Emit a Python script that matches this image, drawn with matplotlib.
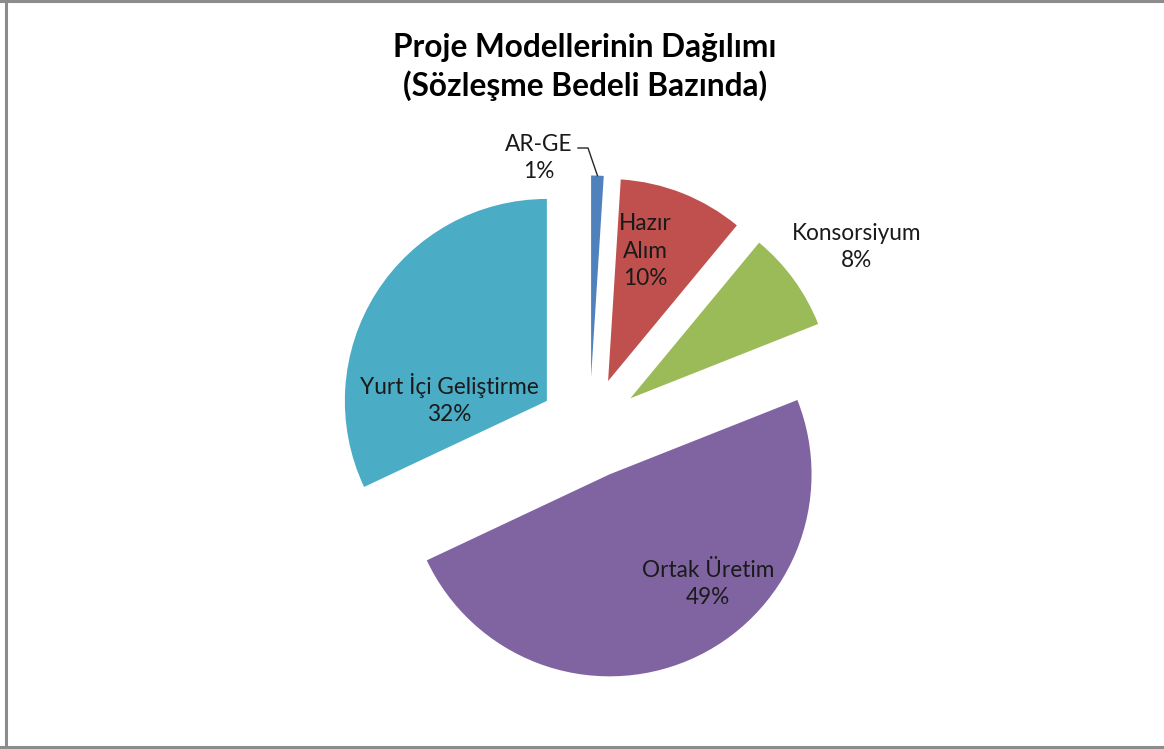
import numpy as np
import matplotlib.pyplot as plt

plt.rcParams['font.family'] = ['Lato', 'DejaVu Sans']

labels = ['AR-GE', 'Hazır\nAlım', 'Konsorsiyum', 'Ortak Üretim', 'Yurt İçi Geliştirme']
values = [1, 10, 8, 49, 32]
colors = ['#4F81BD', '#C0504D', '#9BBB59', '#8064A2', '#4BACC6']

W, H = 1164, 749
S = 202.0          # pixels per unit radius
CX, CY = 589.5, 428.0


def px(x, y):
    # pixel position (from top left) -> data coords
    return (x - CX) / S, (CY - y) / S


fig = plt.figure(figsize=(W / 100, H / 100), dpi=100)
ax = fig.add_axes([0, 0, 1, 1])

wedges, _ = ax.pie(values, colors=colors, startangle=90, counterclock=False,
                   explode=[0.25] * len(values), radius=1,
                   wedgeprops=dict(linewidth=0))
ax.set_xlim(-CX / S, (W - CX) / S)
ax.set_ylim((CY - H) / S, CY / S)
ax.set_aspect('equal', adjustable='box')
ax.axis('off')

total = sum(values)
pct = [f'{v / total * 100:.0f}%' for v in values]

label_pos = [(539, 158), (645, 251), (857, 247), (708, 584), (449, 399)]
for lab, p, (x, y) in zip(labels, pct, label_pos):
    ax.text(*px(x, y), f'{lab}\n{p}', ha='center', va='center',
            fontsize=16.3, color='#1a1a1a', linespacing=1.4)

# leader line for AR-GE
w = wedges[0]
mid = np.deg2rad((w.theta1 + w.theta2) / 2)
tip = (w.center[0] + w.r * np.cos(mid), w.center[1] + w.r * np.sin(mid))
p1 = px(578, 148)
p2 = px(588, 148)
ax.plot([p1[0], p2[0], tip[0]], [p1[1], p2[1], tip[1]], color='#262626', lw=1)

fig.text(585 / W, 1 - 67 / H, 'Proje Modellerinin Dağılımı\n(Sözleşme Bedeli Bazında)',
         ha='center', va='center', fontsize=22.8, fontweight='bold',
         linespacing=1.3, color='#000000')

# chart border
for xs, ys in [([6, 6], [0, H]), ([0, W], [1, 1]), ([0, W], [747, 747])]:
    fig.add_artist(plt.Line2D([x / W for x in xs], [1 - y / H for y in ys],
                              color='#8c8c8c', lw=2.2))

fig.savefig('out.png', dpi=100)
